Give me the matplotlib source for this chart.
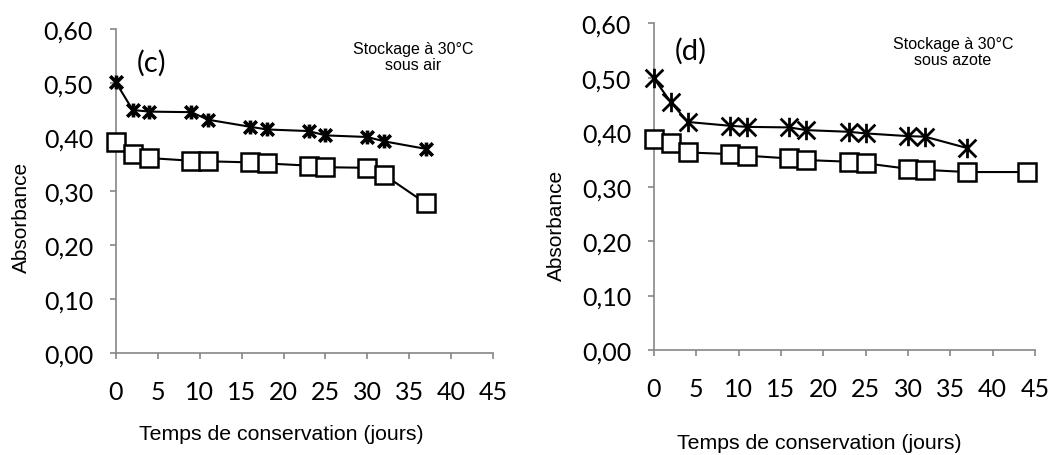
import matplotlib
matplotlib.use('Agg')
import matplotlib.pyplot as plt
from matplotlib.path import Path

# (c) stockage sous air
days_c = [0, 2, 4, 9, 11, 16, 18, 23, 25, 30, 32, 37]
star_c = [0.501, 0.450, 0.447, 0.446, 0.432, 0.419, 0.414, 0.411, 0.403, 0.400, 0.392, 0.378]
square_c = [0.390, 0.369, 0.361, 0.356, 0.355, 0.353, 0.351, 0.347, 0.344, 0.343, 0.330, 0.277]

# (d) stockage sous azote
days_d_star = [0, 2, 4, 9, 11, 16, 18, 23, 25, 30, 32, 37]
star_d = [0.499, 0.455, 0.419, 0.412, 0.410, 0.409, 0.404, 0.401, 0.398, 0.393, 0.392, 0.371]
days_d_square = [0, 2, 4, 9, 11, 16, 18, 23, 25, 30, 32, 37, 44]
square_d = [0.388, 0.381, 0.363, 0.360, 0.357, 0.352, 0.349, 0.346, 0.343, 0.333, 0.331, 0.327, 0.327]

x_ticks = [0, 5, 10, 15, 20, 25, 30, 35, 40, 45]
y_ticks = [0.0, 0.1, 0.2, 0.3, 0.4, 0.5, 0.6]
y_tick_labels = ['0,00', '0,10', '0,20', '0,30', '0,40', '0,50', '0,60']

GRAY = '#868686'
TICK_FONT = 'Lato'
TEXT_FONT = 'Liberation Sans'

# Excel-like star marker: an X with a vertical bar
STAR = Path([(-1, -1), (1, 1), (-1, 1), (1, -1), (0, -1.1), (0, 1.1)],
            [Path.MOVETO, Path.LINETO] * 3)


def draw_panel(ax, days_s, star, days_q, square, tag, note, star_size, star_lw,
               ytick_pad, xtick_pad, ylabel_xy, xlabel_xy, tag_xy, note_xy):
    ax.plot(days_s, star, color='black', lw=1.5, marker=STAR, ms=star_size,
            mew=star_lw, mfc='none', mec='black', zorder=3)
    ax.plot(days_q, square, color='black', lw=1.5, marker='s', ms=13,
            mew=1.8, mfc='white', mec='black', zorder=3)

    ax.set_xlim(0, 45)
    ax.set_ylim(0, 0.6)
    ax.set_xticks(x_ticks)
    ax.set_yticks(y_ticks)
    ax.set_yticklabels(y_tick_labels)
    for lbl in ax.get_xticklabels() + ax.get_yticklabels():
        lbl.set_fontfamily(TICK_FONT)
        lbl.set_fontsize(18)
    ax.tick_params(axis='both', direction='out', length=4.5, width=1.2, color=GRAY)
    ax.tick_params(axis='y', pad=ytick_pad)
    ax.tick_params(axis='x', pad=xtick_pad)

    for side in ['top', 'right']:
        ax.spines[side].set_visible(False)
    for side in ['left', 'bottom']:
        ax.spines[side].set_color(GRAY)
        ax.spines[side].set_linewidth(1.2)
    ax.margins(0)
    for line in ax.lines:
        line.set_clip_on(False)

    ax.set_ylabel('Absorbance', fontfamily=TEXT_FONT, fontsize=15)
    ax.yaxis.set_label_coords(*ylabel_xy)
    ax.set_xlabel('Temps de conservation (jours)', fontfamily=TEXT_FONT, fontsize=15.3)
    ax.xaxis.set_label_coords(*xlabel_xy)

    ax.text(tag_xy[0], tag_xy[1], tag, transform=ax.transAxes, fontfamily=TICK_FONT,
            fontsize=21, ha='left', va='center')
    ax.text(note_xy[0], note_xy[1], note, transform=ax.transAxes, fontfamily=TEXT_FONT,
            fontsize=11.5, ha='center', va='center', linespacing=1.1)


fig = plt.figure(figsize=(10.56, 4.56), dpi=100)
ax_c = fig.add_axes([0.1098, 0.2237, 0.357, 0.7105])
ax_d = fig.add_axes([0.6193, 0.2303, 0.3608, 0.716])

draw_panel(ax_c, days_c, star_c, days_c, square_c, '(c)', 'Stockage à 30°C\nsous air',
           star_size=10, star_lw=2.6, ytick_pad=12, xtick_pad=15,
           ylabel_xy=(-0.225, 0.423), xlabel_xy=(0.439, -0.219),
           tag_xy=(0.055, 0.898), note_xy=(0.788, 0.914))
draw_panel(ax_d, days_d_star, star_d, days_d_square, square_d, '(d)', 'Stockage à 30°C\nsous azote',
           star_size=14, star_lw=2.0, ytick_pad=12, xtick_pad=15,
           ylabel_xy=(-0.231, 0.386), xlabel_xy=(0.433, -0.254),
           tag_xy=(0.055, 0.917), note_xy=(0.785, 0.914))

fig.savefig('out.png', dpi=100, facecolor='white')
